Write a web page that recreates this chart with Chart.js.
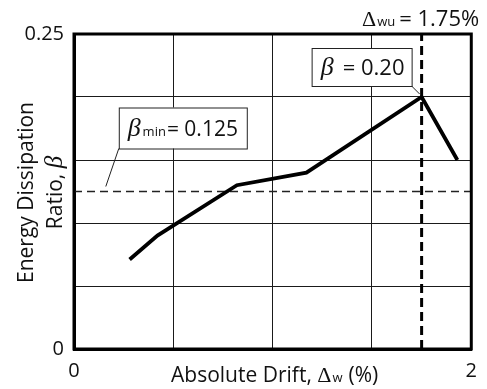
<!DOCTYPE html>
<html>
<head>
<meta charset="utf-8">
<script src="https://cdn.jsdelivr.net/npm/chart.js@4"></script>
<style>
  html, body { margin: 0; padding: 0; background: #ffffff; }
  canvas { display: block; }
</style>
</head>
<body>
<canvas id="chart" width="487" height="389"></canvas>
<script>
// Absolute drift (%) and the energy dissipation ratio measured at each drift level
const driftPct = [0.28, 0.42, 0.82, 1.17, 1.75, 1.93];
const dissipationRatio = [0.071, 0.09, 0.13, 0.14, 0.20, 0.15];

// Reference levels
const betaMin = 0.125;       // minimum acceptable ratio
const driftUltimate = 1.75;  // ultimate drift, %
const betaAtUltimate = 0.20; // ratio at the ultimate drift

// Axis ranges and the tick values that carry labels
const xRange = [0, 2];
const yRange = [0, 0.25];
const xLabelledTicks = [0, 2];
const yLabelledTicks = [0, 0.25];

const FONT = '"Open Sans", "Noto Sans", sans-serif';
const GREEK = '"Liberation Serif", "DejaVu Serif", serif';
const INK = '#111';

const isLabelled = (v, list) => list.some(t => Math.abs(t - v) < 1e-9);

// Draw a run of text pieces (each with its own font and vertical shift), centred on x
function drawRich(ctx, pieces, x, y, align) {
  let total = 0;
  pieces.forEach(p => { ctx.font = p.font; p.w = ctx.measureText(p.t).width; total += p.w + (p.gap || 0); });
  let cx = align === 'right' ? x - total : align === 'left' ? x : x - total / 2;
  pieces.forEach(p => {
    ctx.font = p.font;
    ctx.fillText(p.t, cx, y + (p.dy || 0));
    cx += p.w + (p.gap || 0);
  });
  return total;
}

const overlay = {
  id: 'overlay',
  afterDatasetsDraw(chart) {
    const { ctx, chartArea: a, scales: { x, y } } = chart;
    ctx.save();

    // frame around the plotting area
    ctx.strokeStyle = '#000';
    ctx.lineWidth = 3;
    ctx.strokeRect(a.left, a.top, a.right - a.left, a.bottom - a.top);

    ctx.fillStyle = INK;
    ctx.textBaseline = 'alphabetic';

    // peak callout: β = 0.20
    const px = x.getPixelForValue(driftUltimate);
    const py = y.getPixelForValue(betaAtUltimate);
    const b1 = { r: px - 10, b: py - 11, w: 100, h: 38 };
    ctx.lineWidth = 1;
    ctx.strokeStyle = '#222';
    ctx.fillStyle = '#fff';
    ctx.fillRect(b1.r - b1.w, b1.b - b1.h, b1.w, b1.h);
    ctx.strokeRect(b1.r - b1.w + 0.5, b1.b - b1.h + 0.5, b1.w, b1.h);
    ctx.beginPath();
    ctx.moveTo(b1.r, b1.b);
    ctx.lineTo(px - 2, py - 3);
    ctx.stroke();
    ctx.fillStyle = INK;
    drawRich(ctx, [
      { t: 'β', font: 'italic 26px ' + GREEK, gap: 9 },
      { t: '= ' + betaAtUltimate.toFixed(2), font: '22px ' + FONT }
    ], b1.r - b1.w / 2 + 1, b1.b - 11);

    // minimum-ratio callout: βmin = 0.125
    const lx = x.getPixelForValue(0.16);
    const ly = y.getPixelForValue(betaMin) - 5;
    const b2 = { l: lx + 13, b: ly - 38, w: 128, h: 41 };
    ctx.strokeStyle = '#222';
    ctx.fillStyle = '#fff';
    ctx.fillRect(b2.l, b2.b - b2.h, b2.w, b2.h);
    ctx.strokeRect(b2.l + 0.5, b2.b - b2.h + 0.5, b2.w, b2.h);
    ctx.beginPath();
    ctx.moveTo(b2.l, b2.b);
    ctx.lineTo(lx, ly);
    ctx.stroke();
    ctx.fillStyle = INK;
    drawRich(ctx, [
      { t: 'β', font: 'italic 26px ' + GREEK, gap: 2 },
      { t: 'min', font: '13px ' + FONT, gap: 1 },
      { t: '= ' + betaMin, font: '21px ' + FONT }
    ], b2.l + b2.w / 2, b2.b - 13);

    // ultimate drift label above the vertical marker
    drawRich(ctx, [
      { t: 'Δ', font: '22px ' + GREEK, gap: 1 },
      { t: 'wu', font: '13px ' + FONT, gap: 4 },
      { t: '= ' + driftUltimate + '%', font: '22px ' + FONT }
    ], px - 1, 26);

    // x-axis title
    drawRich(ctx, [
      { t: 'Absolute Drift, ', font: '21px ' + FONT },
      { t: 'Δ', font: '22px ' + GREEK, gap: 1 },
      { t: 'w', font: '13px ' + FONT, gap: 6 },
      { t: '(%)', font: '21px ' + FONT }
    ], (a.left + a.right) / 2 + 2, 382);

    // y-axis title, two rotated lines
    const cy = (a.top + a.bottom) / 2 + 1;
    ctx.save();
    ctx.translate(33, cy);
    ctx.rotate(-Math.PI / 2);
    drawRich(ctx, [{ t: 'Energy Dissipation', font: '21px ' + FONT }], 0, 0);
    ctx.restore();
    ctx.save();
    ctx.translate(62, cy);
    ctx.rotate(-Math.PI / 2);
    drawRich(ctx, [
      { t: 'Ratio, ', font: '21px ' + FONT },
      { t: 'β', font: 'italic 25px ' + GREEK }
    ], 0, 0);
    ctx.restore();

    ctx.restore();
  }
};

new Chart(document.getElementById('chart'), {
  type: 'scatter',
  data: {
    datasets: [
      {
        data: driftPct.map((d, i) => ({ x: d, y: dissipationRatio[i] })),
        showLine: true,
        borderColor: '#000',
        borderWidth: 3.8,
        pointRadius: 0,
        borderJoinStyle: 'miter'
      },
      {
        data: [{ x: xRange[0], y: betaMin }, { x: xRange[1], y: betaMin }],
        showLine: true,
        borderColor: '#222',
        borderWidth: 1.5,
        borderDash: [8, 5],
        pointRadius: 0
      },
      {
        data: [{ x: driftUltimate, y: yRange[0] }, { x: driftUltimate, y: yRange[1] }],
        showLine: true,
        borderColor: '#000',
        borderWidth: 3,
        borderDash: [9, 5],
        pointRadius: 0
      }
    ]
  },
  options: {
    responsive: false,
    animation: false,
    events: [],
    layout: { padding: { top: 34, right: 12, left: 0, bottom: 0 } },
    plugins: { legend: { display: false }, tooltip: { enabled: false } },
    scales: {
      x: {
        type: 'linear',
        min: xRange[0],
        max: xRange[1],
        afterFit: s => { s.height = 40; },
        border: { display: true, color: '#000', width: 3 },
        grid: { color: '#1a1a1a', lineWidth: 1, drawTicks: false },
        ticks: {
          stepSize: 0.5,
          padding: 10,
          maxRotation: 0,
          color: INK,
          font: { family: FONT, size: 20 },
          callback: v => isLabelled(v, xLabelledTicks) ? String(v) : ''
        }
      },
      y: {
        type: 'linear',
        min: yRange[0],
        max: yRange[1],
        afterFit: s => { s.width = 74; },
        border: { display: true, color: '#000', width: 3 },
        grid: { color: '#1a1a1a', lineWidth: 1, drawTicks: false },
        ticks: {
          stepSize: 0.05,
          padding: 10,
          color: INK,
          font: { family: FONT, size: 20 },
          callback: v => isLabelled(v, yLabelledTicks) ? String(v) : ''
        }
      }
    }
  },
  plugins: [overlay]
});
</script>
</body>
</html>
